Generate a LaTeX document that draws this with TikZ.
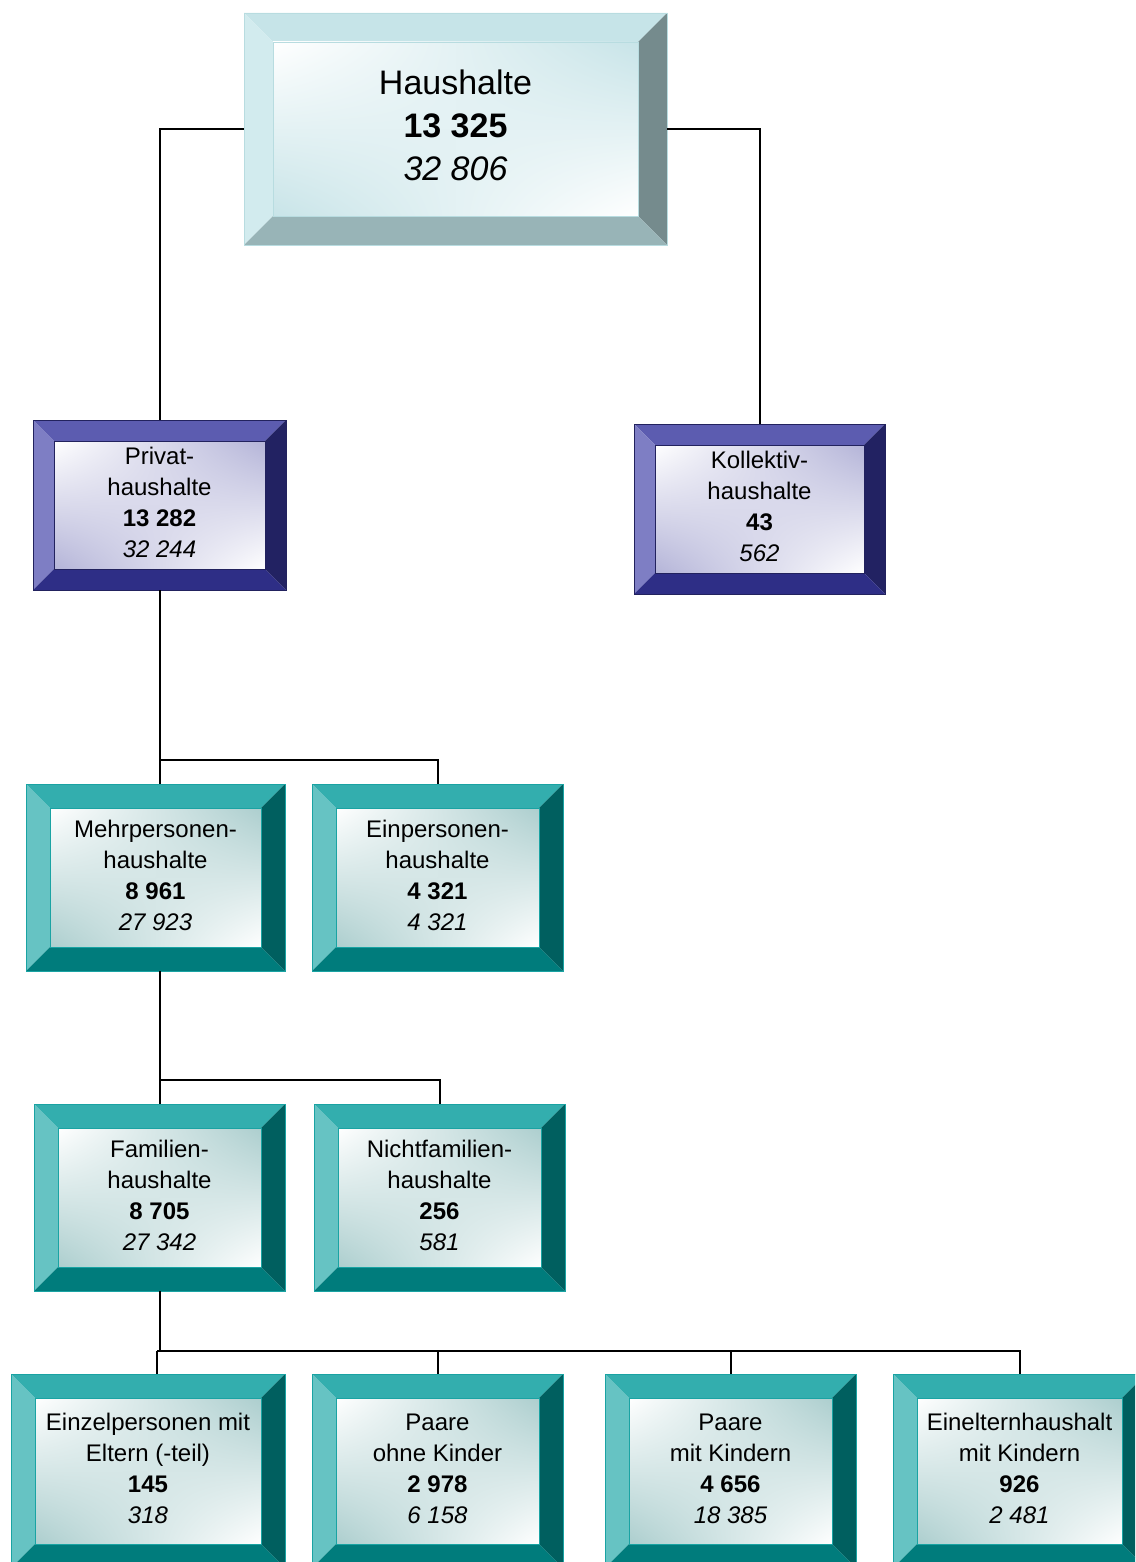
\documentclass[tikz,border=0pt]{standalone}
\usepackage{fontspec}
\setmainfont{Liberation Sans}
\usetikzlibrary{shadings}

\definecolor{cyanT}{HTML}{C6E4E8}
\definecolor{cyanL}{HTML}{D2EBEE}
\definecolor{cyanR}{HTML}{758B8D}
\definecolor{cyanB}{HTML}{98B4B7}
\definecolor{cyanI}{HTML}{C8E4E8}
\definecolor{cyanO}{HTML}{B8DCE0}
\definecolor{blueT}{HTML}{5C5CB0}
\definecolor{blueL}{HTML}{7E7EC4}
\definecolor{blueR}{HTML}{222262}
\definecolor{blueB}{HTML}{2E2E86}
\definecolor{blueI}{HTML}{B4B4D8}
\definecolor{blueO}{HTML}{22225E}
\definecolor{tealT}{HTML}{33AEAE}
\definecolor{tealL}{HTML}{66C3C3}
\definecolor{tealR}{HTML}{005F5F}
\definecolor{tealB}{HTML}{007C7C}
\definecolor{tealI}{HTML}{ACCECE}
\definecolor{tealO}{HTML}{1AA3A3}

\begin{document}
\begin{tikzpicture}[x=0.5pt, y=-0.5pt, font=\fontsize{12}{15.5}\selectfont,
  big/.style={font=\fontsize{17}{21.5}\selectfont},
  link/.style={line width=1pt}]

  \useasboundingbox (0,0) rectangle (1135,1562);
  \clip (0,0) rectangle (1135,1562);

  % name, x1, y1, x2, y2, bevel, colour set, text, extra
  \newcommand\bbox[9]{%
    \fill[#7T] (#2,#3) -- (#4,#3) -- (#4-#6,#3+#6) -- (#2+#6,#3+#6) -- cycle;
    \fill[#7L] (#2,#3) -- (#2+#6,#3+#6) -- (#2+#6,#5-#6) -- (#2,#5) -- cycle;
    \fill[#7R] (#4,#3) -- (#4,#5) -- (#4-#6,#5-#6) -- (#4-#6,#3+#6) -- cycle;
    \fill[#7B] (#2,#5) -- (#2+#6,#5-#6) -- (#4-#6,#5-#6) -- (#4,#5) -- cycle;
    \shade[upper left=white, upper right=#7I, lower left=#7I, lower right=white]
      (#2+#6,#3+#6) rectangle (#4-#6,#5-#6);
    \draw[#7O, thin] (#2,#3) rectangle (#4,#5) (#2+#6,#3+#6) rectangle (#4-#6,#5-#6);
    \node[inner sep=0pt, minimum width={(#4-#2)*0.5pt}, minimum height={(#5-#3)*0.5pt}, #9]
      (#1) at ({(#2+#4)/2},{(#3+#5)/2}) {\begin{tabular}{@{}c@{}}#8\end{tabular}};
  }

  \bbox{haus}{244}{13}{667}{245}{29}{cyan}
    {Haushalte\\\textbf{13 325}\\\textit{32 806}}{big}
  \bbox{priv}{33}{420}{286}{590}{21}{blue}
    {Privat-\\haushalte\\\textbf{13 282}\\\textit{32 244}}{}
  \bbox{koll}{634}{424}{885}{594}{21}{blue}
    {Kollektiv-\\haushalte\\\textbf{43}\\\textit{562}}{}
  \bbox{mehr}{26}{784}{285}{971}{24}{teal}
    {Mehrpersonen-\\haushalte\\\textbf{8 961}\\\textit{27 923}}{}
  \bbox{ein}{312}{784}{563}{971}{24}{teal}
    {Einpersonen-\\haushalte\\\textbf{4 321}\\\textit{4 321}}{}
  \bbox{fam}{34}{1104}{285}{1291}{24}{teal}
    {Familien-\\haushalte\\\textbf{8 705}\\\textit{27 342}}{}
  \bbox{nicht}{314}{1104}{565}{1291}{24}{teal}
    {Nichtfamilien-\\haushalte\\\textbf{256}\\\textit{581}}{}
  \bbox{einz}{11}{1374}{285}{1568}{24}{teal}
    {Einzelpersonen mit\\Eltern (-teil)\\\textbf{145}\\\textit{318}}{}
  \bbox{paoh}{312}{1374}{563}{1568}{24}{teal}
    {Paare\\ohne Kinder\\\textbf{2 978}\\\textit{6 158}}{}
  \bbox{pami}{605}{1374}{856}{1568}{24}{teal}
    {Paare\\mit Kindern\\\textbf{4 656}\\\textit{18 385}}{}
  \bbox{einel}{893}{1374}{1146}{1568}{24}{teal}
    {Einelternhaushalt\\mit Kindern\\\textbf{926}\\\textit{2 481}}{}

  \coordinate (j1) at (160,760);
  \coordinate (j2) at (160,1080);
  \coordinate (j3) at (157,1351);

  \draw[link] (haus.west) -| (priv.north); % haus->priv
  \draw[link] (haus.east) -| (koll.north); % haus->koll

  \draw[link] (priv.south) -- (priv.south |- mehr.north); % priv->mehr
  \draw[link] (j1) -| (ein.north); % priv->ein

  \draw[link] (fam.north |- mehr.south) -- (fam.north); % mehr->fam
  \draw[link] (j2) -| (nicht.north); % mehr->nicht

  \draw[link] (fam.south) -- (fam.south |- j3) -- (j3); % fam->junction
  \draw[link] (j3) -- (j3 |- einz.north);
  \draw[link] (j3) -| (einel.north);
  \draw[link] (j3 -| paoh.north) -- (paoh.north);
  \draw[link] (j3 -| pami.north) -- (pami.north);
\end{tikzpicture}
\end{document}
